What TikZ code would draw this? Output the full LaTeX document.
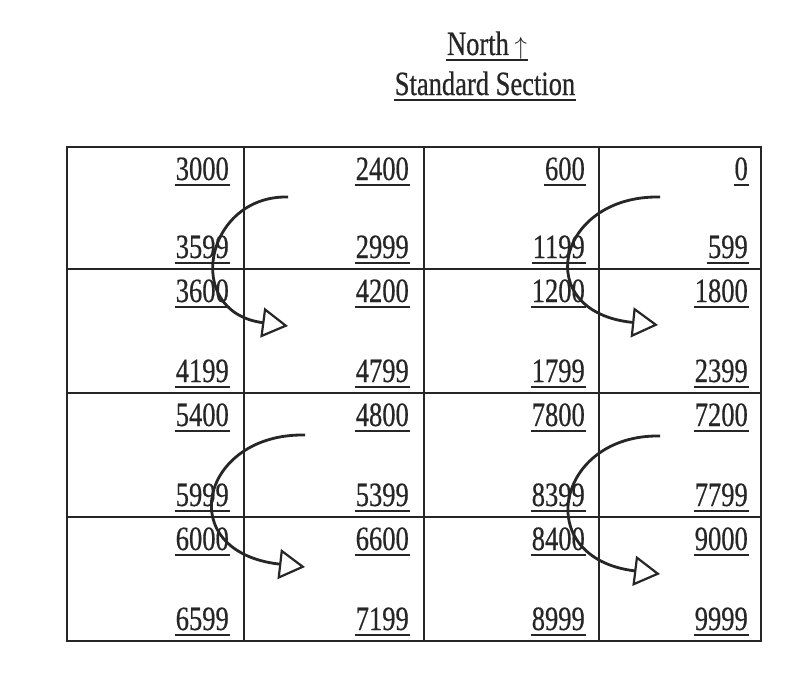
\documentclass[tikz,border=0pt]{standalone}
\usepackage{fontspec}
\setmainfont{Liberation Serif}[FakeStretch=0.78,FakeBold=0.5]
\usetikzlibrary{arrows.meta}
\newcommand{\ulx}[1]{\setbox0=\hbox{#1}\rlap{\hskip-1pt\rule[-6pt]{\dimexpr\wd0+2pt\relax}{2.2pt}}\box0}
\begin{document}
\begin{tikzpicture}[x=1pt,y=-1pt,
  grid/.style={line width=2.2pt, draw=black!85},
  num/.style={anchor=base east, inner sep=0pt, text=black!85, font=\fontsize{34}{36}\selectfont},
  ttl/.style={anchor=base, inner sep=0pt, text=black!85, font=\fontsize{34}{36}\selectfont},
  curl/.style={line width=2.8pt, draw=black!85,
    -{Triangle[open, fill=white, length=26pt, width=30pt, line width=2.2pt]}}]
\useasboundingbox[fill=white] (0,0) rectangle (808,677);
% title
\node[ttl] (north) at (487,55) {\ulx{North\,$\uparrow$}};
\node[ttl] (sect) at (485,95) {\ulx{Standard Section}};
% table
\draw[grid] (67,147) rectangle (761,641);
\foreach \x in {244,424,599} \draw[grid] (\x,147) -- (\x,641);
\foreach \y in {269,393,517} \draw[grid] (67,\y) -- (761,\y);
% numbers: row, top y, bottom y, then per column top/bottom values
\foreach \r/\ty/\by/\a/\b/\c/\d/\e/\f/\g/\h in {
  1/147/269/3000/3599/2400/2999/600/1199/0/599,
  2/269/393/3600/4199/4200/4799/1200/1799/1800/2399,
  3/393/517/5400/5999/4800/5399/7800/8399/7200/7799,
  4/517/641/6000/6599/6600/7199/8400/8999/9000/9999}{
  \node[num] (t\r a) at (229,\ty+33) {\ulx{\a}};
  \node[num] (b\r a) at (229,\by-11) {\ulx{\b}};
  \node[num] (t\r b) at (409,\ty+33) {\ulx{\c}};
  \node[num] (b\r b) at (409,\by-11) {\ulx{\d}};
  \node[num] (t\r c) at (585,\ty+33) {\ulx{\e}};
  \node[num] (b\r c) at (585,\by-11) {\ulx{\f}};
  \node[num] (t\r d) at (748,\ty+33) {\ulx{\g}};
  \node[num] (b\r d) at (748,\by-11) {\ulx{\h}};
}
% curved arrows
\coordinate (s1) at (288,197); \coordinate (e1) at (288,326);
\coordinate (s2) at (660,197); \coordinate (e2) at (658,325);
\coordinate (s3) at (305,435); \coordinate (e3) at (305,567);
\coordinate (s4) at (660,436); \coordinate (e4) at (660,574);
\draw[curl] (s1) .. controls (205,195) and (182,312) .. (e1);
\draw[curl] (s2) .. controls (556,195) and (530,312) .. (e2);
\draw[curl] (s3) .. controls (200,433) and (172,552) .. (e3);
\draw[curl] (s4) .. controls (556,434) and (530,558) .. (e4);
\end{tikzpicture}
\end{document}
